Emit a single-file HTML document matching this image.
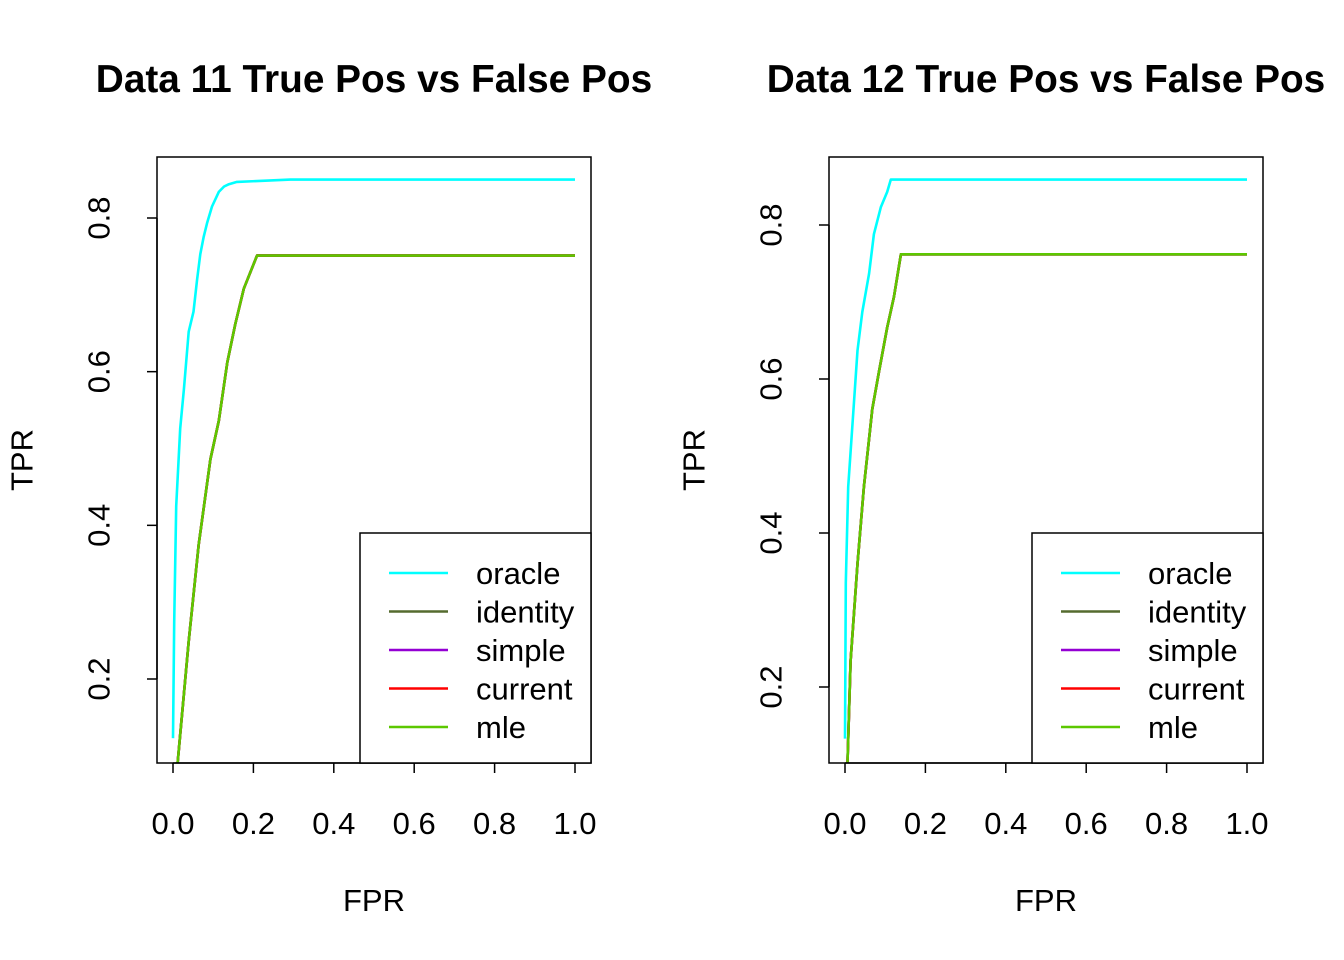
<!DOCTYPE html>
<html><head><meta charset="utf-8"><style>
html,body{margin:0;padding:0;background:#fff;}
svg{display:block;font-family:"Liberation Sans",Arial,sans-serif;}
</style></head><body>
<svg id="chart" width="1344" height="960" viewBox="0 0 1344 960" xmlns="http://www.w3.org/2000/svg"></svg>
<script>
const seriesNames = ["oracle","identity","simple","current","mle"];
const seriesColors = ["#00FFFF","#556B2F","#9400D3","#FF0000","#5CC800"];
const xTicks = [0,0.2,0.4,0.6,0.8,1.0];
const xTickLabels = ["0.0","0.2","0.4","0.6","0.8","1.0"];
const yTicks = [0.2,0.4,0.6,0.8];
const yTickLabels = ["0.2","0.4","0.6","0.8"];
const titles = ["Data 11 True Pos vs False Pos","Data 12 True Pos vs False Pos"];

const p1OracleFpr = [0,0.003,0.008,0.018,0.027,0.039,0.051,0.060,0.068,0.076,0.085,0.097,0.114,0.127,0.139,0.159,0.292,1];
const p1OracleTpr = [0.123,0.274,0.425,0.526,0.577,0.652,0.678,0.720,0.753,0.775,0.794,0.815,0.834,0.841,0.844,0.847,0.850,0.850];
const p1ModelFpr = [0.01,0.039,0.064,0.093,0.114,0.135,0.155,0.176,0.209,1];
const p1ModelTpr = [0.082,0.249,0.375,0.486,0.536,0.612,0.662,0.708,0.751,0.751];

const p2OracleFpr = [0,0.002,0.008,0.018,0.031,0.043,0.060,0.072,0.089,0.105,0.114,1];
const p2OracleTpr = [0.133,0.335,0.460,0.536,0.637,0.687,0.737,0.788,0.823,0.843,0.859,0.859];
const p2ModelFpr = [0.006,0.014,0.031,0.047,0.068,0.085,0.105,0.122,0.139,1];
const p2ModelTpr = [0.098,0.234,0.360,0.460,0.561,0.611,0.667,0.707,0.762,0.762];

const panels = [
  {box:[157,157,591,763], x0:173, x1:575, y02:679, y08:218, legX:360, title:titles[0],
   fpr:[p1OracleFpr,p1ModelFpr,p1ModelFpr,p1ModelFpr,p1ModelFpr],
   tpr:[p1OracleTpr,p1ModelTpr,p1ModelTpr,p1ModelTpr,p1ModelTpr]},
  {box:[829,157,1263,763], x0:845, x1:1247, y02:687, y08:225, legX:1032, title:titles[1],
   fpr:[p2OracleFpr,p2ModelFpr,p2ModelFpr,p2ModelFpr,p2ModelFpr],
   tpr:[p2OracleTpr,p2ModelTpr,p2ModelTpr,p2ModelTpr,p2ModelTpr]}
];
const NS="http://www.w3.org/2000/svg";
const svg=document.getElementById('chart');
function mk(tag,attrs,parent){const e=document.createElementNS(NS,tag);for(const k in attrs)e.setAttribute(k,attrs[k]);(parent||svg).appendChild(e);return e;}

panels.forEach((p,pi)=>{
  const g=mk('g',{});
  
  
  const [L,T,R,B]=p.box;
  const sx=v=>p.x0+(p.x1-p.x0)*v;
  const sy=v=>p.y02+(p.y08-p.y02)*(v-0.2)/0.6;
  const cx=(L+R)/2;
  const t=mk('text',{x:cx,y:92,'text-anchor':'middle','font-size':'38.8','font-weight':'bold'},g);
  t.textContent=p.title;
  
  
  const clipId='clip'+pi;
  const cp=mk('clipPath',{id:clipId},g);
  mk('rect',{x:L,y:T,width:R-L,height:B-T},cp);
  for(let s=0;s<seriesNames.length;s++){
    const pts=p.fpr[s].map((f,i)=>sx(f).toFixed(1)+','+sy(p.tpr[s][i]).toFixed(1)).join(' ');
    const pl=mk('polyline',{points:pts,fill:'none',stroke:seriesColors[s],'stroke-width':'2.6','stroke-linejoin':'round','clip-path':'url(#'+clipId+')'},g);
    
    
  }
  const box=mk('rect',{x:L,y:T,width:R-L,height:B-T,fill:'none',stroke:'#000','stroke-width':'1.5'},g);
  
  
  const xa=mk('g',{},g);
  
  
  mk('line',{x1:sx(0),y1:B,x2:sx(1),y2:B,stroke:'#000','stroke-width':'1.5'},xa);
  xTicks.forEach((v,i)=>{
    mk('line',{x1:sx(v),y1:B,x2:sx(v),y2:B+10,stroke:'#000','stroke-width':'1.5'},xa);
    const tl=mk('text',{x:sx(v),y:834,'text-anchor':'middle','font-size':'31'},xa);
    tl.textContent=xTickLabels[i];
    
    
  });
  const xt=mk('text',{x:cx,y:911,'text-anchor':'middle','font-size':'31'},g);
  xt.textContent='FPR';
  
  
  const ya=mk('g',{},g);
  
  
  mk('line',{x1:L,y1:sy(0.2),x2:L,y2:sy(0.8),stroke:'#000','stroke-width':'1.5'},ya);
  yTicks.forEach((v,i)=>{
    mk('line',{x1:L,y1:sy(v),x2:L-10,y2:sy(v),stroke:'#000','stroke-width':'1.5'},ya);
    const lx=L-58;
    const tl=mk('text',{x:lx,y:sy(v),'text-anchor':'middle','font-size':'31',transform:'rotate(-90 '+lx+' '+sy(v)+')','dominant-baseline':'central'},ya);
    tl.textContent=yTickLabels[i];
    
    
  });
  const yx=L-135, yy=460;
  const yt=mk('text',{x:yx,y:yy,'text-anchor':'middle','font-size':'31',transform:'rotate(-90 '+yx+' '+yy+')','dominant-baseline':'central'},g);
  yt.textContent='TPR';
  
  
  const lg=mk('g',{},g);
  
  
  mk('rect',{x:p.legX,y:533,width:R-p.legX,height:B-533,fill:'#fff',stroke:'#000','stroke-width':'1.5'},lg);
  seriesNames.forEach((n,i)=>{
    const y=573+i*38.5;
    const e=mk('g',{},lg);
    
    
    mk('line',{x1:p.legX+29,y1:y,x2:p.legX+88,y2:y,stroke:seriesColors[i],'stroke-width':'2.6'},e);
    const lt=mk('text',{x:p.legX+116,y:y+11,'font-size':'31'},e);
    lt.textContent=n;
  });
});
</script>
</body></html>
